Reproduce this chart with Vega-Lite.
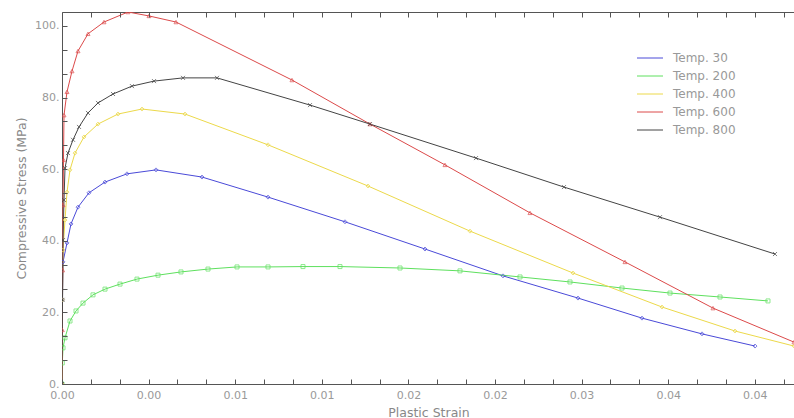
{
  "$schema": "https://vega.github.io/schema/vega-lite/v6.json",
  "width": 733,
  "height": 372,
  "autosize": {"type": "none"},
  "padding": {"left": 62, "top": 12, "right": 0, "bottom": 34},
  "background": "white",
  "config": {
    "view": {"stroke": "#555", "strokeWidth": 1},
    "font": "DejaVu Sans",
    "axis": {"labelFont": "DejaVu Sans", "titleFont": "DejaVu Sans", "grid": false, "domain": false, "tickColor": "#555", "labelColor": "#999", "titleColor": "#888", "labelFontSize": 11, "titleFontSize": 12.5, "titleFontWeight": "normal"}
  },
  "resolve": {"axis": {"x": "independent", "y": "independent"}},
  "data": {"values": [
    {"t":"Temp. 30","x":0,"y":0},{"t":"Temp. 30","x":0.0000335,"y":23.5},{"t":"Temp. 30","x":0.000067,"y":34.1},{"t":"Temp. 30","x":0.000335,"y":39.4},{"t":"Temp. 30","x":0.000603,"y":44.7},{"t":"Temp. 30","x":0.001072,"y":49.4},{"t":"Temp. 30","x":0.001808,"y":53.4},{"t":"Temp. 30","x":0.00288,"y":56.4},{"t":"Temp. 30","x":0.004353,"y":58.7},{"t":"Temp. 30","x":0.006296,"y":59.8},{"t":"Temp. 30","x":0.009377,"y":57.8},{"t":"Temp. 30","x":0.013797,"y":52.2},{"t":"Temp. 30","x":0.018954,"y":45.3},{"t":"Temp. 30","x":0.024312,"y":37.7},{"t":"Temp. 30","x":0.029536,"y":30.2},{"t":"Temp. 30","x":0.034559,"y":24.0},{"t":"Temp. 30","x":0.038846,"y":18.4},{"t":"Temp. 30","x":0.042864,"y":14.0},{"t":"Temp. 30","x":0.046414,"y":10.6},
    {"t":"Temp. 200","x":0,"y":0},{"t":"Temp. 200","x":0.00002,"y":5.9},{"t":"Temp. 200","x":0.000067,"y":10.1},{"t":"Temp. 200","x":0.000201,"y":12.9},{"t":"Temp. 200","x":0.000536,"y":17.6},{"t":"Temp. 200","x":0.000938,"y":20.4},{"t":"Temp. 200","x":0.001407,"y":22.6},{"t":"Temp. 200","x":0.002076,"y":24.9},{"t":"Temp. 200","x":0.00288,"y":26.5},{"t":"Temp. 200","x":0.003885,"y":27.9},{"t":"Temp. 200","x":0.005023,"y":29.3},{"t":"Temp. 200","x":0.00643,"y":30.4},{"t":"Temp. 200","x":0.00797,"y":31.3},{"t":"Temp. 200","x":0.009778,"y":32.1},{"t":"Temp. 200","x":0.011721,"y":32.7},{"t":"Temp. 200","x":0.013797,"y":32.7},{"t":"Temp. 200","x":0.016141,"y":32.8},{"t":"Temp. 200","x":0.018619,"y":32.8},{"t":"Temp. 200","x":0.022638,"y":32.4},{"t":"Temp. 200","x":0.026656,"y":31.6},{"t":"Temp. 200","x":0.030675,"y":29.9},{"t":"Temp. 200","x":0.034023,"y":28.5},{"t":"Temp. 200","x":0.037506,"y":26.8},{"t":"Temp. 200","x":0.040721,"y":25.4},{"t":"Temp. 200","x":0.04407,"y":24.3},{"t":"Temp. 200","x":0.047284,"y":23.2},
    {"t":"Temp. 400","x":0,"y":0},{"t":"Temp. 400","x":0.0000335,"y":23.5},{"t":"Temp. 400","x":0.000067,"y":37.4},{"t":"Temp. 400","x":0.000201,"y":45.8},{"t":"Temp. 400","x":0.000335,"y":53.6},{"t":"Temp. 400","x":0.000536,"y":59.8},{"t":"Temp. 400","x":0.000871,"y":64.5},{"t":"Temp. 400","x":0.001474,"y":69.0},{"t":"Temp. 400","x":0.002411,"y":72.6},{"t":"Temp. 400","x":0.003751,"y":75.4},{"t":"Temp. 400","x":0.005358,"y":76.8},{"t":"Temp. 400","x":0.008238,"y":75.4},{"t":"Temp. 400","x":0.013797,"y":66.8},{"t":"Temp. 400","x":0.020494,"y":55.3},{"t":"Temp. 400","x":0.027326,"y":42.7},{"t":"Temp. 400","x":0.034224,"y":31.0},{"t":"Temp. 400","x":0.040185,"y":21.5},{"t":"Temp. 400","x":0.045074,"y":14.8},{"t":"Temp. 400","x":0.049026,"y":10.6},
    {"t":"Temp. 600","x":0,"y":0},{"t":"Temp. 600","x":0.00002,"y":15.1},{"t":"Temp. 600","x":0.00004,"y":31.8},{"t":"Temp. 600","x":0.000067,"y":50.0},{"t":"Temp. 600","x":0.0001,"y":62.6},{"t":"Temp. 600","x":0.000134,"y":75.1},{"t":"Temp. 600","x":0.000335,"y":81.6},{"t":"Temp. 600","x":0.00067,"y":87.4},{"t":"Temp. 600","x":0.001072,"y":93.0},{"t":"Temp. 600","x":0.001741,"y":97.8},{"t":"Temp. 600","x":0.002813,"y":101.1},{"t":"Temp. 600","x":0.00442,"y":103.9},{"t":"Temp. 600","x":0.005827,"y":102.8},{"t":"Temp. 600","x":0.007635,"y":101.1},{"t":"Temp. 600","x":0.015404,"y":84.9},{"t":"Temp. 600","x":0.020628,"y":72.6},{"t":"Temp. 600","x":0.025651,"y":61.2},{"t":"Temp. 600","x":0.031344,"y":47.8},{"t":"Temp. 600","x":0.037707,"y":34.1},{"t":"Temp. 600","x":0.043601,"y":21.2},{"t":"Temp. 600","x":0.049026,"y":11.7},
    {"t":"Temp. 800","x":0,"y":0},{"t":"Temp. 800","x":0.0000335,"y":23.5},{"t":"Temp. 800","x":0.000067,"y":40.2},{"t":"Temp. 800","x":0.000134,"y":51.4},{"t":"Temp. 800","x":0.000201,"y":60.3},{"t":"Temp. 800","x":0.000402,"y":64.5},{"t":"Temp. 800","x":0.000737,"y":68.2},{"t":"Temp. 800","x":0.001139,"y":71.8},{"t":"Temp. 800","x":0.001741,"y":75.7},{"t":"Temp. 800","x":0.002411,"y":78.5},{"t":"Temp. 800","x":0.003416,"y":81.0},{"t":"Temp. 800","x":0.004688,"y":83.2},{"t":"Temp. 800","x":0.006162,"y":84.6},{"t":"Temp. 800","x":0.008104,"y":85.5},{"t":"Temp. 800","x":0.010381,"y":85.5},{"t":"Temp. 800","x":0.01661,"y":77.9},{"t":"Temp. 800","x":0.020628,"y":72.6},{"t":"Temp. 800","x":0.027728,"y":63.1},{"t":"Temp. 800","x":0.033621,"y":55.0},{"t":"Temp. 800","x":0.040051,"y":46.6},{"t":"Temp. 800","x":0.047753,"y":36.3}
  ]},
  "layer": [
    {
      "mark": {"type": "line", "strokeWidth": 1, "clip": true},
      "encoding": {
        "x": {"field": "x", "type": "quantitative", "scale": {"domain": [0, 0.049093], "nice": false, "zero": true},
          "axis": {"orient": "bottom", "title": "Plastic Strain", "titlePadding": 6, "ticks": false,
            "values": [0, 0.0058, 0.0116, 0.0174, 0.0232, 0.029, 0.0348, 0.0406, 0.0464],
            "labelExpr": "format(floor(datum.value*100 + 0.000001)/100, '.2f')",
            "labelPadding": 5, "labelFlush": false, "labelOverlap": false}},
        "y": {"field": "y", "type": "quantitative", "scale": {"domain": [0, 103.9], "nice": false},
          "axis": {"orient": "left", "title": "Compressive Stress (MPa)", "titlePadding": 6, "ticks": false,
            "values": [0, 20, 40, 60, 80, 100],
            "labelExpr": "format(datum.value, 'd') + '.'",
            "labelPadding": 3, "labelOverlap": false, "labelFlush": false}},
        "color": {"field": "t", "type": "nominal",
          "scale": {"domain": ["Temp. 30", "Temp. 200", "Temp. 400", "Temp. 600", "Temp. 800"], "range": ["#4a4ad8", "#5ee05e", "#ecd94a", "#dc4a4a", "#444444"]},
          "legend": {"orient": "none", "legendX": 582, "legendY": 40, "title": null, "symbolType": "M-2.6,0H2.6", "symbolSize": 100, "symbolStrokeWidth": 1, "labelFontSize": 12, "labelColor": "#999", "labelFont": "DejaVu Sans", "rowPadding": 6, "labelOffset": 17, "padding": 0}}
      }
    },
    {
      "transform": [{"filter": "datum.t == 'Temp. 30'"}],
      "mark": {"type": "point", "filled": false, "size": 16, "strokeWidth": 1, "clip": true, "shape": "diamond", "color": "#4a4ad8"},
      "encoding": {
        "x": {"field": "x", "type": "quantitative",
          "axis": {"orient": "top", "title": null, "labels": false, "tickSize": -5, "zindex": 1,
            "values": [0, 0.0019333, 0.0038667, 0.0058, 0.0077333, 0.0096667, 0.0116, 0.0135333, 0.0154667, 0.0174, 0.0193333, 0.0212667, 0.0232, 0.0251333, 0.0270667, 0.029, 0.0309333, 0.0328667, 0.0348, 0.0367333, 0.0386667, 0.0406, 0.0425333, 0.0444667, 0.0464, 0.0483333]}},
        "y": {"field": "y", "type": "quantitative",
          "axis": {"orient": "right", "offset": -733, "title": null, "labels": false, "tickSize": 5, "zindex": 1,
            "values": [0, 6.6667, 13.3333, 20, 26.6667, 33.3333, 40, 46.6667, 53.3333, 60, 66.6667, 73.3333, 80, 86.6667, 93.3333, 100]}}
      }
    },
    {
      "transform": [{"filter": "datum.t == 'Temp. 200'"}],
      "mark": {"type": "point", "filled": false, "size": 16, "strokeWidth": 1, "clip": true, "shape": "square", "color": "#5ee05e"},
      "encoding": {
        "x": {"field": "x", "type": "quantitative",
          "axis": {"orient": "top", "offset": -372, "title": null, "labels": false, "tickSize": 5, "zindex": 1,
            "values": [0, 0.0019333, 0.0038667, 0.0058, 0.0077333, 0.0096667, 0.0116, 0.0135333, 0.0154667, 0.0174, 0.0193333, 0.0212667, 0.0232, 0.0251333, 0.0270667, 0.029, 0.0309333, 0.0328667, 0.0348, 0.0367333, 0.0386667, 0.0406, 0.0425333, 0.0444667, 0.0464, 0.0483333]}},
        "y": {"field": "y", "type": "quantitative", "axis": null}
      }
    },
    {
      "transform": [{"filter": "datum.t == 'Temp. 400'"}],
      "mark": {"type": "point", "filled": false, "size": 16, "strokeWidth": 1, "clip": true, "shape": "diamond", "color": "#ecd94a"},
      "encoding": {"x": {"field": "x", "type": "quantitative", "axis": null}, "y": {"field": "y", "type": "quantitative", "axis": null}}
    },
    {
      "transform": [{"filter": "datum.t == 'Temp. 600'"}],
      "mark": {"type": "point", "filled": false, "size": 16, "strokeWidth": 1, "clip": true, "shape": "triangle-up", "color": "#dc4a4a"},
      "encoding": {"x": {"field": "x", "type": "quantitative", "axis": null}, "y": {"field": "y", "type": "quantitative", "axis": null}}
    },
    {
      "transform": [{"filter": "datum.t == 'Temp. 800'"}],
      "mark": {"type": "point", "filled": false, "size": 16, "strokeWidth": 1, "clip": true, "shape": "M-1,-1L1,1M-1,1L1,-1", "color": "#444444"},
      "encoding": {"x": {"field": "x", "type": "quantitative", "axis": null}, "y": {"field": "y", "type": "quantitative", "axis": null}}
    }
  ]
}
